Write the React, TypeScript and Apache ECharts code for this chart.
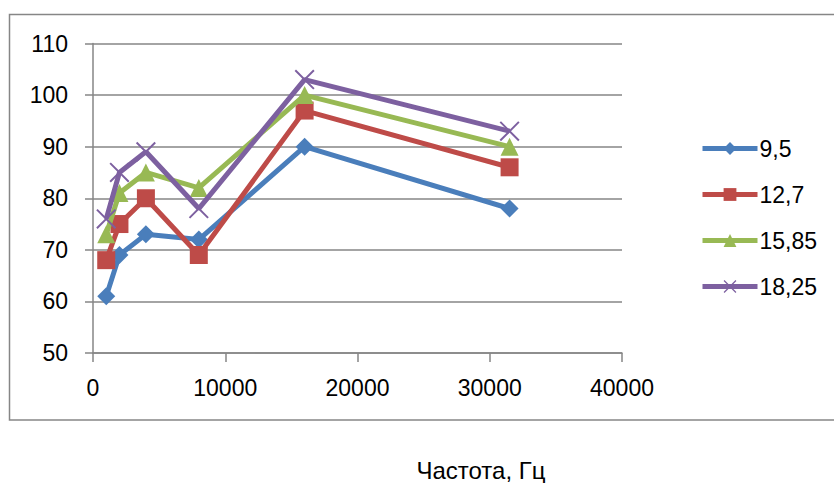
import React, { useEffect, useRef } from "react";
import * as echarts from "echarts";

const frequencies = [1000, 2000, 4000, 8000, 16000, 31500];
const seriesNames = ["9,5", "12,7", "15,85", "18,25"];
const values95 = [61, 69, 73, 72, 90, 78];
const values127 = [68, 75, 80, 69, 97, 86];
const values1585 = [73, 81, 85, 82, 100, 90];
const values1825 = [76, 85, 89, 78, 103, 93];
const seriesColors = ["#4A7EBB", "#BE4B48", "#98B954", "#7D60A0"];
const xTitle = "Частота, Гц";

const crossPath =
  "path://M0,0.07L0.07,0L1,0.93L0.93,1Z M0.93,0L1,0.07L0.07,1L0,0.93Z";
const symbols = ["diamond", "rect", "triangle", crossPath];
const symbolSizes = [18, 18, 18, 20];

export default function App() {
  const ref = useRef<HTMLDivElement>(null);
  useEffect(() => {
    if (!ref.current) return;
    const chart = echarts.init(ref.current, null, { renderer: "svg" });
    const allValues = [values95, values127, values1585, values1825];
    const font = "Liberation Sans";
    chart.setOption({
      animation: false,
      backgroundColor: "#ffffff",
      textStyle: { fontFamily: font },
      grid: { left: 93, right: 212, top: 43.5, bottom: 130, containLabel: false },
      legend: {
        orient: "vertical",
        left: 695,
        top: 132,
        itemWidth: 55,
        itemHeight: 16,
        itemGap: 23,
        textStyle: { fontFamily: font, fontSize: 23, color: "#000", padding: [0, 0, 0, -3] },
        lineStyle: { width: 5 },
        data: seriesNames,
      },
      xAxis: {
        type: "value",
        min: 0,
        max: 40000,
        interval: 10000,
        axisLine: { show: true, lineStyle: { color: "#868686", width: 1.5 } },
        axisTick: { show: true, length: 9, lineStyle: { color: "#868686", width: 1.5 } },
        splitLine: { show: false },
        axisLabel: {
          fontFamily: font,
          fontSize: 23,
          color: "#000",
          margin: 23,
          formatter: (v: number) => String(v),
        },
      },
      yAxis: {
        type: "value",
        min: 50,
        max: 110,
        interval: 10,
        axisLine: { show: true, lineStyle: { color: "#868686", width: 1.5 } },
        axisTick: { show: true, length: 8, lineStyle: { color: "#868686", width: 1.5 } },
        splitLine: { show: true, lineStyle: { color: "#868686", width: 1.5 } },
        axisLabel: { fontFamily: font, fontSize: 23, color: "#000", margin: 25 },
      },
      series: seriesNames.map((name, i) => ({
        name,
        type: "line",
        data: frequencies.map((f, j) => [f, allValues[i][j]]),
        symbol: symbols[i],
        symbolSize: symbolSizes[i],
        showAllSymbol: true,
        lineStyle: { color: seriesColors[i], width: 5 },
        itemStyle: { color: seriesColors[i] },
        z: 2 + i,
      })),
      graphic: [
        {
          type: "rect",
          shape: { x: 9.5, y: 14.5, width: 900, height: 405.5 },
          style: { fill: "none", stroke: "#868686", lineWidth: 1.5 },
          silent: true,
          z: -1,
        },
        {
          type: "text",
          x: 481,
          y: 470,
          style: {
            text: xTitle,
            fontFamily: font,
            fontSize: 24,
            fill: "#000",
            align: "center",
            verticalAlign: "middle",
          },
        },
      ],
    });
    return () => chart.dispose();
  }, []);
  return (
    <div
      ref={ref}
      style={{ position: "fixed", left: 0, top: 0, width: 834, height: 483 }}
    />
  );
}
